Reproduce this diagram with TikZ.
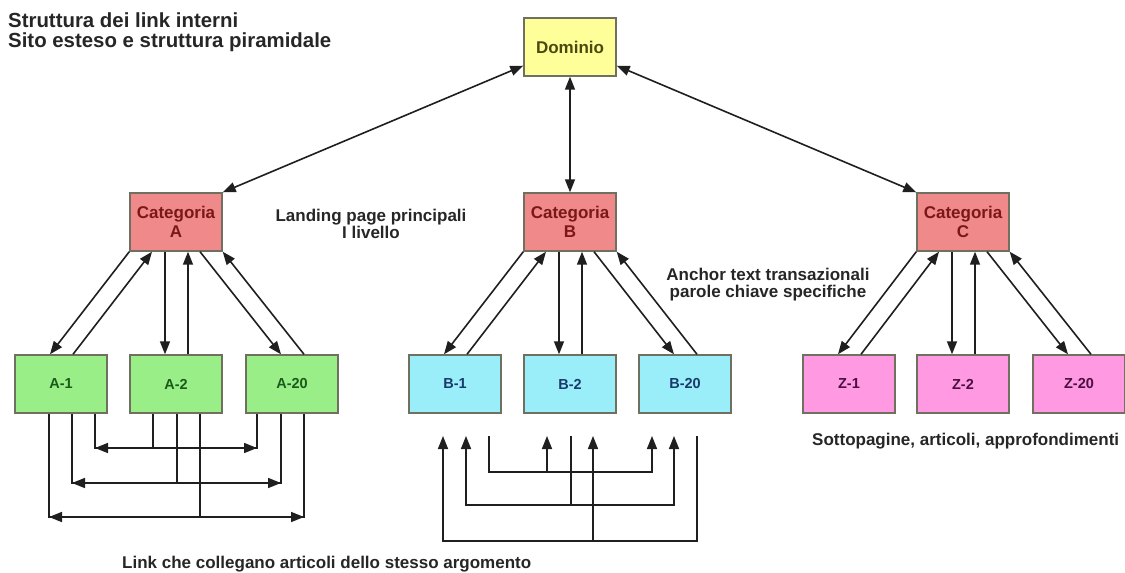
\documentclass[tikz,border=0pt]{standalone}
\usepackage{fontspec}
\setmainfont{Liberation Sans}
\usetikzlibrary{arrows.meta}

\definecolor{domfill}{HTML}{FFFF99}
\definecolor{domtext}{HTML}{4A4A10}
\definecolor{catfill}{HTML}{F08A8A}
\definecolor{cattext}{HTML}{7A1818}
\definecolor{afill}{HTML}{99EE88}
\definecolor{atext}{HTML}{1A5A1A}
\definecolor{bfill}{HTML}{99EEFA}
\definecolor{btext}{HTML}{1A3A6A}
\definecolor{zfill}{HTML}{FF99E2}
\definecolor{ztext}{HTML}{4A1040}
\definecolor{edge}{HTML}{707060}

\begin{document}
\begin{tikzpicture}[x=1pt,y=-1pt,
    box/.style={draw=edge,line width=1.4pt,minimum width=92pt,minimum height=58pt,inner sep=0pt,align=center},
    leaf/.style={box,font=\fontsize{14.5}{16}\selectfont\bfseries},
    catbox/.style={box,fill=catfill,text=cattext,font=\fontsize{17}{19}\selectfont\bfseries},
    lbl/.style={inner sep=0pt,font=\fontsize{17}{16.5}\selectfont\bfseries,text=black!85},
    link/.style={line width=1.6pt,draw=black!88},
    arr/.style={link,-{Triangle[length=13pt,width=10pt]}},
    arrs/.style={link,{Triangle[length=13pt,width=10pt]}-{Triangle[length=13pt,width=10pt]}}]

  \useasboundingbox (0,0) rectangle (1125,573);

  % titolo
  \node[lbl,anchor=base west,align=left,font=\fontsize{20.4}{20}\selectfont\bfseries] (tit) at (8,47)
    {Struttura dei link interni\\Sito esteso e struttura piramidale};

  % livello 0 e 1
  \node[box,fill=domfill,text=domtext,font=\fontsize{17}{19}\selectfont\bfseries] (dom) at (570,47) {Dominio};
  \node[catbox] (catA) at (176,222) {Categoria\\A};
  \node[catbox] (catB) at (570,222) {Categoria\\B};
  \node[catbox] (catC) at (963,222) {Categoria\\C};

  % sottopagine
  \node[leaf,fill=afill,text=atext] (a1) at (61,384) {A-1};
  \node[leaf,fill=afill,text=atext] (a2) at (176,384) {A-2};
  \node[leaf,fill=afill,text=atext] (a20) at (292,384) {A-20};
  \node[leaf,fill=bfill,text=btext] (b1) at (455,384) {B-1};
  \node[leaf,fill=bfill,text=btext] (b2) at (570,384) {B-2};
  \node[leaf,fill=bfill,text=btext] (b20) at (685,384) {B-20};
  \node[leaf,fill=zfill,text=ztext] (z1) at (849,384) {Z-1};
  \node[leaf,fill=zfill,text=ztext] (z2) at (963,384) {Z-2};
  \node[leaf,fill=zfill,text=ztext] (z20) at (1079,384) {Z-20};

  % didascalie
  \node[lbl,anchor=base,align=center] (land) at (371,238) {Landing page principali\\I livello};
  \node[lbl,anchor=base,align=center] (anch) at (768,297) {Anchor text transazionali\\parole chiave specifiche};
  \node[lbl,anchor=base west] (sott) at (812,445) {Sottopagine, articoli, approfondimenti};
  \node[lbl,anchor=base west] (linkt) at (122,568) {Link che collegano articoli dello stesso argomento};

  % dominio - categorie
  \draw[arrs] ([yshift=11pt]dom.south west) -- (catA.north east);
  \draw[arrs] (dom.south) -- (catB.north);
  \draw[arrs] ([yshift=11pt]dom.south east) -- (catC.north west);

  % categoria A
  \draw[arr] (catA.south west) -- ([xshift=-11pt]a1.north);
  \draw[arr] ([xshift=12pt]a1.north) -- ([xshift=-24pt]catA.south);
  \draw[arr] ([xshift=-11pt]catA.south) -- ([xshift=-11pt]a2.north);
  \draw[arr] ([xshift=12pt]a2.north) -- ([xshift=12pt]catA.south);
  \draw[arr] ([xshift=24pt]catA.south) -- ([xshift=-11pt]a20.north);
  \draw[arr] ([xshift=12pt]a20.north) -- (catA.south east);

  % categoria B
  \draw[arr] (catB.south west) -- ([xshift=-11pt]b1.north);
  \draw[arr] ([xshift=12pt]b1.north) -- ([xshift=-24pt]catB.south);
  \draw[arr] ([xshift=-11pt]catB.south) -- ([xshift=-11pt]b2.north);
  \draw[arr] ([xshift=12pt]b2.north) -- ([xshift=12pt]catB.south);
  \draw[arr] ([xshift=24pt]catB.south) -- ([xshift=-11pt]b20.north);
  \draw[arr] ([xshift=12pt]b20.north) -- (catB.south east);

  % categoria C
  \draw[arr] (catC.south west) -- ([xshift=-11pt]z1.north);
  \draw[arr] ([xshift=12pt]z1.north) -- ([xshift=-24pt]catC.south);
  \draw[arr] ([xshift=-11pt]catC.south) -- ([xshift=-11pt]z2.north);
  \draw[arr] ([xshift=12pt]z2.north) -- ([xshift=12pt]catC.south);
  \draw[arr] ([xshift=24pt]catC.south) -- ([xshift=-11pt]z20.north);
  \draw[arr] ([xshift=12pt]z20.north) -- (catC.south east);

  % link tra articoli A
  \coordinate (ya1) at (0,448);
  \coordinate (ya2) at (0,483);
  \coordinate (ya3) at (0,517);
  \draw[link] ([xshift=34pt]a1.south) |- ([xshift=-35pt]a20.south |- ya1) -- ([xshift=-35pt]a20.south);
  \draw[link] ([xshift=-23pt]a2.south) -- ([xshift=-23pt]a2.south |- ya1);
  \draw[arrs] ([xshift=34pt]a1.south |- ya1) -- ([xshift=-35pt]a20.south |- ya1);
  \draw[link] ([xshift=11pt]a1.south) |- ([xshift=-11pt]a20.south |- ya2) -- ([xshift=-11pt]a20.south);
  \draw[link] ([xshift=1pt]a2.south) -- ([xshift=1pt]a2.south |- ya2);
  \draw[arrs] ([xshift=11pt]a1.south |- ya2) -- ([xshift=-11pt]a20.south |- ya2);
  \draw[link] ([xshift=-12pt]a1.south) |- ([xshift=12pt]a20.south |- ya3) -- ([xshift=12pt]a20.south);
  \draw[link] ([xshift=24pt]a2.south) -- ([xshift=24pt]a2.south |- ya3);
  \draw[arrs] ([xshift=-12pt]a1.south |- ya3) -- ([xshift=12pt]a20.south |- ya3);

  % link tra articoli B
  \coordinate (yb0) at (0,436);
  \coordinate (yb1) at (0,472);
  \coordinate (yb2) at (0,505);
  \coordinate (yb3) at (0,541);
  \draw[arr] ([xshift=34pt]b1.south |- yb0) |- ([xshift=-33pt]b20.south |- yb1) -- ([xshift=-33pt]b20.south |- yb0);
  \draw[arr] ([xshift=-23pt]b2.south |- yb1) -- ([xshift=-23pt]b2.south |- yb0);
  \draw[arr] ([xshift=1pt]b2.south |- yb0) |- ([xshift=11pt]b1.south |- yb2) -- ([xshift=11pt]b1.south |- yb0);
  \draw[arr] ([xshift=1pt]b2.south |- yb2) -| ([xshift=-11pt]b20.south |- yb0);
  \draw[arr] ([xshift=12pt]b20.south |- yb0) |- ([xshift=-12pt]b1.south |- yb3) -- ([xshift=-12pt]b1.south |- yb0);
  \draw[arr] ([xshift=23pt]b2.south |- yb3) -- ([xshift=23pt]b2.south |- yb0);

\end{tikzpicture}
\end{document}
